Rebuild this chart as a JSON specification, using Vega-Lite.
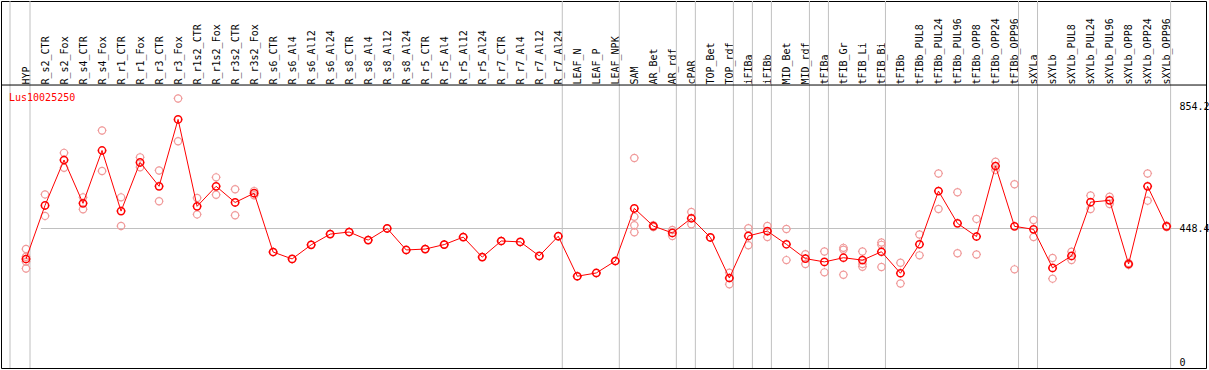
{
  "$schema": "https://vega.github.io/schema/vega-lite/v6.json",
  "width": 1205,
  "height": 367,
  "autosize": {"type": "none"},
  "padding": {"left": 1, "top": 1, "right": 3, "bottom": 2},
  "background": "white",
  "title": {"text": "Lus10025250", "anchor": "start", "frame": "group", "offset": -110, "dx": 8, "color": "#ff0000", "font": "DejaVu Sans Mono", "fontSize": 10, "fontWeight": "normal", "baseline": "alphabetic"},
  "config": {
    "font": "DejaVu Sans Mono",
    "view": {"stroke": "#000000", "strokeWidth": 1},
    "axis": {"labelFont": "DejaVu Sans Mono", "labelFontSize": 10, "labelColor": "#000000", "ticks": false, "title": null}
  },
  "datasets": {
    "means": [
      {"cat": "HYP", "v": 344.7}, {"cat": "R_s2_CTR", "v": 524}, {"cat": "R_s2_Fox", "v": 676}, {"cat": "R_s4_CTR", "v": 531}, {"cat": "R_s4_Fox", "v": 708},
      {"cat": "R_r1_CTR", "v": 505}, {"cat": "R_r1_Fox", "v": 668}, {"cat": "R_r3_CTR", "v": 588}, {"cat": "R_r3_Fox", "v": 812}, {"cat": "R_r1s2_CTR", "v": 521},
      {"cat": "R_r1s2_Fox", "v": 588}, {"cat": "R_r3s2_CTR", "v": 534}, {"cat": "R_r3s2_Fox", "v": 565}, {"cat": "R_s6_CTR", "v": 368}, {"cat": "R_s6_Al4", "v": 345},
      {"cat": "R_s6_Al12", "v": 392}, {"cat": "R_s6_Al24", "v": 428}, {"cat": "R_s8_CTR", "v": 435}, {"cat": "R_s8_Al4", "v": 408}, {"cat": "R_s8_Al12", "v": 447},
      {"cat": "R_s8_Al24", "v": 375}, {"cat": "R_r5_CTR", "v": 378}, {"cat": "R_r5_Al4", "v": 393}, {"cat": "R_r5_Al12", "v": 418}, {"cat": "R_r5_Al24", "v": 351},
      {"cat": "R_r7_CTR", "v": 405}, {"cat": "R_r7_Al4", "v": 402}, {"cat": "R_r7_Al12", "v": 355}, {"cat": "R_r7_Al24", "v": 421}, {"cat": "LEAF_N", "v": 287},
      {"cat": "LEAF_P", "v": 298}, {"cat": "LEAF_NPK", "v": 338}, {"cat": "SAM", "v": 514}, {"cat": "AR_Bet", "v": 455}, {"cat": "AR_rdf", "v": 432},
      {"cat": "cPAR", "v": 481}, {"cat": "TOP_Bet", "v": 417}, {"cat": "TOP_rdf", "v": 281}, {"cat": "iFIBa", "v": 422}, {"cat": "iFIBb", "v": 438},
      {"cat": "MID_Bet", "v": 394}, {"cat": "MID_rdf", "v": 346}, {"cat": "tFIBa", "v": 335}, {"cat": "tFIB_Gr", "v": 349}, {"cat": "tFIB_Li", "v": 341},
      {"cat": "tFIB_Bi", "v": 369}, {"cat": "tFIBb", "v": 297}, {"cat": "tFIBb_PUL8", "v": 394}, {"cat": "tFIBb_PUL24", "v": 572}, {"cat": "tFIBb_PUL96", "v": 464},
      {"cat": "tFIBb_OPP8", "v": 420}, {"cat": "tFIBb_OPP24", "v": 656}, {"cat": "tFIBb_OPP96", "v": 454}, {"cat": "sXYLa", "v": 444}, {"cat": "sXYLb", "v": 315},
      {"cat": "sXYLb_PUL8", "v": 355}, {"cat": "sXYLb_PUL24", "v": 535}, {"cat": "sXYLb_PUL96", "v": 541}, {"cat": "sXYLb_OPP8", "v": 328}, {"cat": "sXYLb_OPP24", "v": 588},
      {"cat": "sXYLb_OPP96", "v": 454}
    ],
    "reps": [
      {"cat": "HYP", "v": 378}, {"cat": "HYP", "v": 352}, {"cat": "HYP", "v": 336}, {"cat": "HYP", "v": 313},
      {"cat": "R_s2_CTR", "v": 561}, {"cat": "R_s2_CTR", "v": 489},
      {"cat": "R_s2_Fox", "v": 700}, {"cat": "R_s2_Fox", "v": 650},
      {"cat": "R_s4_CTR", "v": 551}, {"cat": "R_s4_CTR", "v": 511},
      {"cat": "R_s4_Fox", "v": 775}, {"cat": "R_s4_Fox", "v": 639},
      {"cat": "R_r1_CTR", "v": 551}, {"cat": "R_r1_CTR", "v": 455},
      {"cat": "R_r1_Fox", "v": 685}, {"cat": "R_r1_Fox", "v": 652},
      {"cat": "R_r3_CTR", "v": 641}, {"cat": "R_r3_CTR", "v": 538},
      {"cat": "R_r3_Fox", "v": 882}, {"cat": "R_r3_Fox", "v": 739},
      {"cat": "R_r1s2_CTR", "v": 549}, {"cat": "R_r1s2_CTR", "v": 494},
      {"cat": "R_r1s2_Fox", "v": 618}, {"cat": "R_r1s2_Fox", "v": 560},
      {"cat": "R_r3s2_CTR", "v": 578}, {"cat": "R_r3s2_CTR", "v": 491},
      {"cat": "R_r3s2_Fox", "v": 572}, {"cat": "R_r3s2_Fox", "v": 558},
      {"cat": "R_s6_CTR", "v": 368}, {"cat": "R_s6_Al4", "v": 345}, {"cat": "R_s6_Al12", "v": 392}, {"cat": "R_s6_Al24", "v": 428},
      {"cat": "R_s8_CTR", "v": 435}, {"cat": "R_s8_Al4", "v": 408}, {"cat": "R_s8_Al12", "v": 447}, {"cat": "R_s8_Al24", "v": 375},
      {"cat": "R_r5_CTR", "v": 378}, {"cat": "R_r5_Al4", "v": 393}, {"cat": "R_r5_Al12", "v": 418}, {"cat": "R_r5_Al24", "v": 351},
      {"cat": "R_r7_CTR", "v": 405}, {"cat": "R_r7_Al4", "v": 402}, {"cat": "R_r7_Al12", "v": 355}, {"cat": "R_r7_Al24", "v": 421},
      {"cat": "LEAF_N", "v": 287}, {"cat": "LEAF_P", "v": 298}, {"cat": "LEAF_NPK", "v": 338},
      {"cat": "SAM", "v": 683}, {"cat": "SAM", "v": 486}, {"cat": "SAM", "v": 458}, {"cat": "SAM", "v": 434},
      {"cat": "AR_Bet", "v": 458}, {"cat": "AR_Bet", "v": 452},
      {"cat": "AR_rdf", "v": 442}, {"cat": "AR_rdf", "v": 422},
      {"cat": "cPAR", "v": 502}, {"cat": "cPAR", "v": 461},
      {"cat": "TOP_Bet", "v": 417},
      {"cat": "TOP_rdf", "v": 299}, {"cat": "TOP_rdf", "v": 260},
      {"cat": "iFIBa", "v": 448}, {"cat": "iFIBa", "v": 391},
      {"cat": "iFIBb", "v": 455}, {"cat": "iFIBb", "v": 418},
      {"cat": "MID_Bet", "v": 445}, {"cat": "MID_Bet", "v": 341},
      {"cat": "MID_rdf", "v": 361}, {"cat": "MID_rdf", "v": 328},
      {"cat": "tFIBa", "v": 370}, {"cat": "tFIBa", "v": 300},
      {"cat": "tFIB_Gr", "v": 382}, {"cat": "tFIB_Gr", "v": 376}, {"cat": "tFIB_Gr", "v": 292},
      {"cat": "tFIB_Li", "v": 370}, {"cat": "tFIB_Li", "v": 328}, {"cat": "tFIB_Li", "v": 319},
      {"cat": "tFIB_Bi", "v": 400}, {"cat": "tFIB_Bi", "v": 392}, {"cat": "tFIB_Bi", "v": 318},
      {"cat": "tFIBb", "v": 332}, {"cat": "tFIBb", "v": 263},
      {"cat": "tFIBb_PUL8", "v": 427}, {"cat": "tFIBb_PUL8", "v": 357},
      {"cat": "tFIBb_PUL24", "v": 631}, {"cat": "tFIBb_PUL24", "v": 512},
      {"cat": "tFIBb_PUL96", "v": 568}, {"cat": "tFIBb_PUL96", "v": 364},
      {"cat": "tFIBb_OPP8", "v": 479}, {"cat": "tFIBb_OPP8", "v": 360},
      {"cat": "tFIBb_OPP24", "v": 670}, {"cat": "tFIBb_OPP24", "v": 643},
      {"cat": "tFIBb_OPP96", "v": 595}, {"cat": "tFIBb_OPP96", "v": 310},
      {"cat": "sXYLa", "v": 475}, {"cat": "sXYLa", "v": 418},
      {"cat": "sXYLb", "v": 348}, {"cat": "sXYLb", "v": 279},
      {"cat": "sXYLb_PUL8", "v": 369}, {"cat": "sXYLb_PUL8", "v": 341},
      {"cat": "sXYLb_PUL24", "v": 557}, {"cat": "sXYLb_PUL24", "v": 512},
      {"cat": "sXYLb_PUL96", "v": 553}, {"cat": "sXYLb_PUL96", "v": 529},
      {"cat": "sXYLb_OPP8", "v": 331}, {"cat": "sXYLb_OPP8", "v": 325},
      {"cat": "sXYLb_OPP24", "v": 631}, {"cat": "sXYLb_OPP24", "v": 540},
      {"cat": "sXYLb_OPP96", "v": 456}, {"cat": "sXYLb_OPP96", "v": 452}
    ],
    "groupEnds": [
      {"cat": "HYP"}, {"cat": "R_r7_Al24"}, {"cat": "LEAF_NPK"}, {"cat": "AR_rdf"}, {"cat": "cPAR"}, {"cat": "TOP_rdf"}, {"cat": "iFIBa"},
      {"cat": "iFIBb"}, {"cat": "MID_rdf"}, {"cat": "tFIBa"}, {"cat": "tFIB_Bi"}, {"cat": "tFIBb_OPP96"}, {"cat": "sXYLa"}, {"cat": "sXYLb_OPP96"}
    ],
    "groupStart": [{"cat": "HYP"}],
    "panelTop": [{"v": 927}]
  },
  "encoding": {
    "x": {
      "field": "cat", "type": "nominal",
      "scale": {"type": "point", "padding": 0, "range": [25, 1165.6], "domain": ["HYP","R_s2_CTR","R_s2_Fox","R_s4_CTR","R_s4_Fox","R_r1_CTR","R_r1_Fox","R_r3_CTR","R_r3_Fox","R_r1s2_CTR","R_r1s2_Fox","R_r3s2_CTR","R_r3s2_Fox","R_s6_CTR","R_s6_Al4","R_s6_Al12","R_s6_Al24","R_s8_CTR","R_s8_Al4","R_s8_Al12","R_s8_Al24","R_r5_CTR","R_r5_Al4","R_r5_Al12","R_r5_Al24","R_r7_CTR","R_r7_Al4","R_r7_Al12","R_r7_Al24","LEAF_N","LEAF_P","LEAF_NPK","SAM","AR_Bet","AR_rdf","cPAR","TOP_Bet","TOP_rdf","iFIBa","iFIBb","MID_Bet","MID_rdf","tFIBa","tFIB_Gr","tFIB_Li","tFIB_Bi","tFIBb","tFIBb_PUL8","tFIBb_PUL24","tFIBb_PUL96","tFIBb_OPP8","tFIBb_OPP24","tFIBb_OPP96","sXYLa","sXYLb","sXYLb_PUL8","sXYLb_PUL24","sXYLb_PUL96","sXYLb_OPP8","sXYLb_OPP24","sXYLb_OPP96"]},
      "axis": {"orient": "top", "offset": -84, "labelAngle": -90, "labelAlign": "left", "labelBaseline": "middle", "labelPadding": 1, "labelOverlap": false, "labelBound": false, "grid": false, "domain": false}
    }
  },
  "layer": [
    {"data": {"name": "groupEnds"}, "mark": {"type": "rule", "xOffset": 4, "color": "#c0c0c0", "strokeWidth": 1}},
    {"data": {"name": "groupStart"}, "mark": {"type": "rule", "xOffset": -16, "color": "#c0c0c0", "strokeWidth": 1}},
    {
      "data": {"name": "panelTop"},
      "mark": {"type": "rule", "color": "#000000", "strokeWidth": 1},
      "encoding": {
        "x": null,
        "y": {"field": "v", "type": "quantitative", "scale": {"domain": [-20.08, 1208.2], "nice": false, "zero": false}}
      }
    },
    {
      "data": {"name": "reps"},
      "mark": {"type": "point", "shape": "M -0.72 0 A 0.72 0.72 0 1 0 0.72 0 A 0.72 0.72 0 1 0 -0.72 0 Z M 0 -0.72 L 0 -0.9 M 0 0.72 L 0 0.9 M -0.72 0 L -0.9 0 M 0.72 0 L 0.9 0", "filled": false, "color": "#f09a9a", "size": 100, "strokeWidth": 1.2, "opacity": 1},
      "encoding": {
        "y": {"field": "v", "type": "quantitative", "scale": {"domain": [-20.08, 1208.2], "nice": false, "zero": false},
          "axis": {"orient": "right", "offset": -30, "values": [0, 448.4, 854.2], "labelExpr": "'' + datum.value", "labelAlign": "left", "labelBaseline": "middle", "labelPadding": 3, "domain": false, "grid": true, "gridColor": "#c0c0c0", "gridWidth": 1, "gridOpacity": {"condition": {"test": "datum.value === 448.4", "value": 1}, "value": 0}}}
      }
    },
    {
      "data": {"name": "means"},
      "mark": {"type": "line", "color": "#ff0000", "strokeWidth": 1},
      "encoding": {
        "y": {"field": "v", "type": "quantitative", "scale": {"domain": [-20.08, 1208.2], "nice": false, "zero": false}}
      }
    },
    {
      "data": {"name": "means"},
      "mark": {"type": "point", "shape": "M -0.72 0 A 0.72 0.72 0 1 0 0.72 0 A 0.72 0.72 0 1 0 -0.72 0 Z M 0 -0.72 L 0 -0.9 M 0 0.72 L 0 0.9 M -0.72 0 L -0.9 0 M 0.72 0 L 0.9 0", "filled": false, "color": "#ff0000", "size": 100, "strokeWidth": 1.5, "opacity": 1},
      "encoding": {
        "y": {"field": "v", "type": "quantitative", "scale": {"domain": [-20.08, 1208.2], "nice": false, "zero": false}}
      }
    }
  ]
}
